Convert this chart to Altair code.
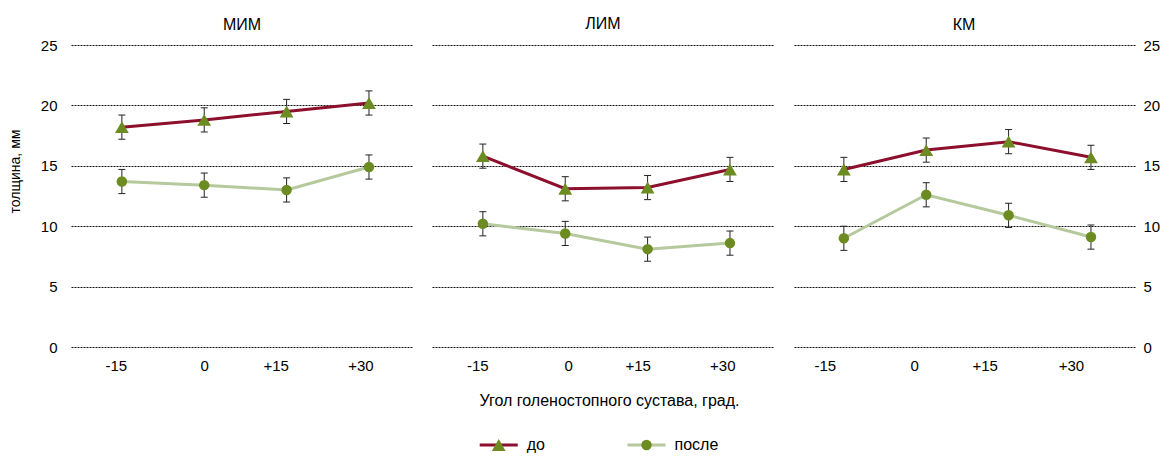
import altair as alt
import pandas as pd

FONT = "Liberation Sans"

angles = ["-15", "0", "+15", "+30"]
panels = ["МИМ", "ЛИМ", "КМ"]
series = ["до", "после"]

# thickness (mm)
before_vals = {
    "МИМ": [18.2, 18.8, 19.5, 20.2],
    "ЛИМ": [15.8, 13.1, 13.2, 14.7],
    "КМ": [14.7, 16.3, 17.0, 15.7],
}
after_vals = {
    "МИМ": [13.7, 13.4, 13.0, 14.9],
    "ЛИМ": [10.2, 9.4, 8.1, 8.6],
    "КМ": [9.0, 12.6, 10.9, 9.1],
}
before_err = {
    "МИМ": [1.0, 1.0, 1.0, 1.0],
    "ЛИМ": [1.0, 1.0, 1.0, 1.0],
    "КМ": [1.0, 1.0, 1.0, 1.0],
}
after_err = {
    "МИМ": [1.0, 1.0, 1.0, 1.0],
    "ЛИМ": [1.0, 1.0, 1.0, 1.0],
    "КМ": [1.0, 1.0, 1.0, 1.0],
}
y_ticks = [0, 5, 10, 15, 20, 25]

rows = []
for p in panels:
    for s, vals, errs in (("до", before_vals[p], before_err[p]), ("после", after_vals[p], after_err[p])):
        for a, v, e in zip(angles, vals, errs):
            rows.append({"panel": p, "series": s, "angle": a, "value": v,
                         "lo": v - e, "hi": v + e})
df = pd.DataFrame(rows)

RED = "#8c0f2d"
LIGHT = "#b5c99c"
GREEN = "#6c8c22"
BAR = "#222222"

color_enc = alt.Color("series:N", scale=alt.Scale(domain=series, range=[RED, LIGHT]), legend=None)
shape_enc = alt.Shape("series:N", scale=alt.Scale(domain=series, range=["triangle-up", "circle"]), legend=None)
size_enc = alt.Size("series:N", scale=alt.Scale(domain=series, range=[190, 110]), legend=None)

label_offsets = {
    "МИМ": {"-15": -6, "0": 0, "+15": -11, "+30": -8.5},
    "ЛИМ": {"-15": -5.5, "0": 3, "+15": -10, "+30": -7.7},
    "КМ": {"-15": -19, "0": -12, "+15": -24, "+30": -20},
}
title_offsets = {"МИМ": 5, "ЛИМ": 13, "КМ": 5}

PW, PH = 342, 302


def make_panel(name, yaxis_kind):
    d = df[df.panel == name]
    offs = label_offsets[name]
    cond = [{"test": "datum.value === '%s'" % k, "value": v} for k, v in offs.items()]
    xaxis_kw = dict(labelAngle=0, ticks=False, domain=False, grid=False, labelPadding=11,
                    labelFontSize=15, labelOffset={"condition": cond, "value": 0})
    if name == "ЛИМ":
        xaxis = alt.Axis(title="Угол голеностопного сустава, град.", titleFontSize=16,
                         titleFontWeight="normal", titleX=177, titleY=53,
                         titleBaseline="middle", **xaxis_kw)
    else:
        xaxis = alt.Axis(title=None, **xaxis_kw)
    x = alt.X("angle:N", sort=angles,
              scale=alt.Scale(type="point", domain=angles, padding=0.576, align=0.536),
              axis=xaxis)
    grid_kw = dict(values=y_ticks, grid=True, gridDash=[2, 1], gridColor="#111111",
                   gridWidth=1, ticks=False, tickSize=0, domain=False, labelFontSize=15)
    if yaxis_kind == "left":
        yaxis = alt.Axis(orient="left", title="толщина, мм", titleFontSize=14,
                         titleFontWeight="normal", titleX=-56, titleY=126,
                         titleBaseline="middle", labelPadding=14, **grid_kw)
    elif yaxis_kind == "right":
        yaxis = alt.Axis(orient="right", title=None, labelPadding=8, labelAlign="left", **grid_kw)
    else:
        yaxis = alt.Axis(title=None, labels=False, **grid_kw)
    yscale = alt.Scale(domain=[0, 25], nice=False, zero=True)
    y = alt.Y("value:Q", scale=yscale, axis=yaxis)
    base = alt.Chart(d)
    line = base.mark_line(strokeWidth=3, opacity=1).encode(x=x, y=y, color=color_enc, detail="series:N")
    rule = base.mark_rule(color=BAR, strokeWidth=1, opacity=1).encode(
        x=x, y=alt.Y("lo:Q", scale=yscale, axis=yaxis), y2="hi:Q")
    cap_lo = base.mark_tick(orient="horizontal", size=7, thickness=1, color=BAR, opacity=1).encode(
        x=x, y=alt.Y("lo:Q", scale=yscale, axis=yaxis))
    cap_hi = base.mark_tick(orient="horizontal", size=7, thickness=1, color=BAR, opacity=1).encode(
        x=x, y=alt.Y("hi:Q", scale=yscale, axis=yaxis))
    pts = base.mark_point(filled=True, opacity=1, color=GREEN).encode(
        x=x, y=y, shape=shape_enc, size=size_enc)
    return alt.layer(line, rule, cap_lo, cap_hi, pts).properties(
        width=PW, height=PH,
        title=alt.TitleParams(name, fontSize=16, font=FONT, fontWeight="normal",
                              color="black", offset=title_offsets[name], frame="group"),
    )


top = alt.hconcat(
    make_panel("МИМ", "left"),
    make_panel("ЛИМ", "none"),
    make_panel("КМ", "right"),
    spacing=19,
)

# legend row (its plot area starts at the first panel's plot area)
legend_slot = [0, 1]
leg_df = pd.DataFrame({"series": series, "slot": legend_slot})
lx = alt.X("slot:Q", scale=alt.Scale(domain=[-2.894, 3.872], nice=False, zero=False), axis=None)
leg_base = alt.Chart(leg_df).encode(x=lx)
leg_line = leg_base.mark_tick(orient="horizontal", size=38, thickness=3, opacity=1).encode(color=color_enc)
leg_pts = leg_base.mark_point(filled=True, opacity=1, color=GREEN).encode(shape=shape_enc, size=size_enc)
leg_txt = leg_base.mark_text(align="left", dx=28, fontSize=16, font=FONT, color="black").encode(text="series:N")
legend = alt.layer(leg_line, leg_pts, leg_txt).properties(width=1000, height=12)

chart = alt.vconcat(top, legend, spacing=29).properties(
    padding={"left": 0, "top": 8, "right": 0, "bottom": 0}
).configure_view(stroke=None).configure_axis(
    labelFont=FONT, titleFont=FONT, labelColor="black", titleColor="black"
).configure_title(font=FONT)

chart.save("out.html", embed_options={"renderer": "svg", "actions": False})
